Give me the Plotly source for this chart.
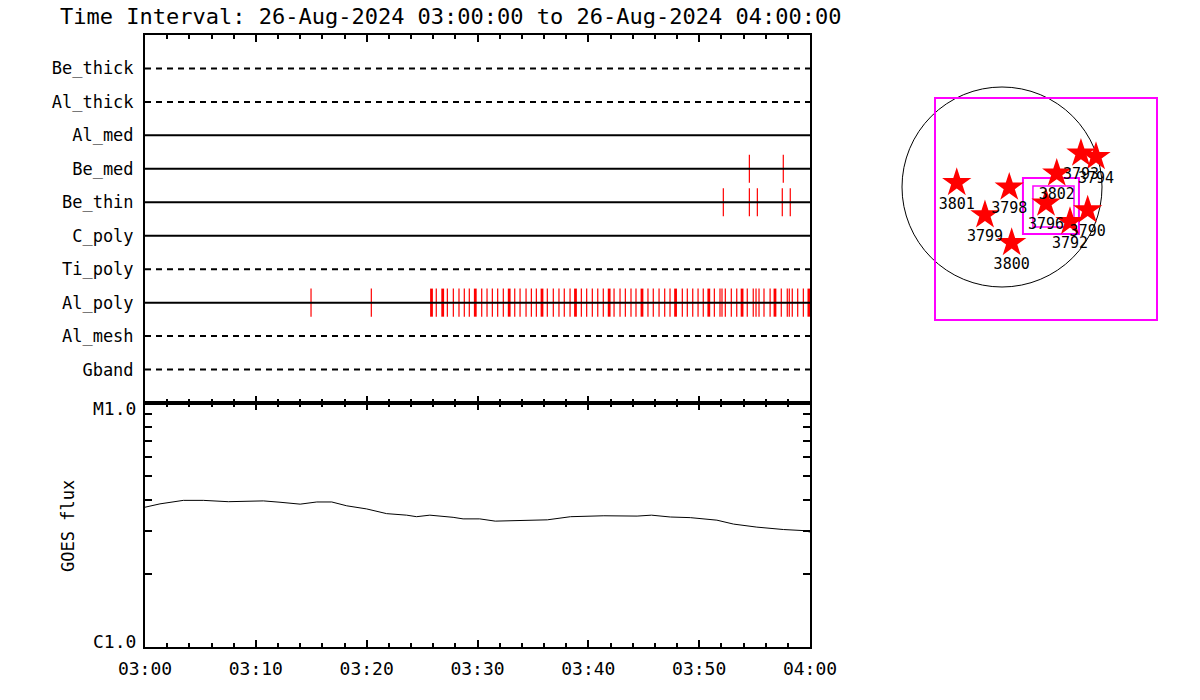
import math
import pandas as pd
import plotly.graph_objects as go

# ---------------- data ----------------
BASE = pd.Timestamp("2024-08-26 03:00:00")
T_START = "2024-08-26 03:00:00"
T_END = "2024-08-26 04:00:00"
TITLE = "Time Interval: 26-Aug-2024 03:00:00 to 26-Aug-2024 04:00:00"

channels = ["Be_thick", "Al_thick", "Al_med", "Be_med", "Be_thin",
            "C_poly", "Ti_poly", "Al_poly", "Al_mesh", "Gband"]
channel_dashed = [True, True, False, False, False, False, True, False, True, True]

# event times, minutes after 03:00
be_med_events = [54.53, 57.59]
be_thin_events = [52.18, 54.53, 55.25, 57.50, 58.22]
al_poly_events = [14.98, 20.42, 26.28, 27.28, 27.82, 28.33, 28.81, 29.26, 30.38, 30.86,
                  31.34, 31.82, 32.33, 33.36, 33.84, 34.38, 34.86, 35.31, 36.30, 36.84,
                  37.35, 37.83, 38.35, 39.37, 39.85, 40.36, 40.85, 41.35, 42.32, 42.86,
                  43.34, 43.85, 44.30, 45.38, 45.86, 46.38, 46.89, 47.37, 48.48, 48.93,
                  49.42, 49.90, 50.37, 51.37, 51.88, 52.06, 52.36, 52.90, 53.39, 54.34,
                  54.88, 55.13, 55.40, 55.85, 56.40, 57.41, 57.95, 58.13, 58.40, 58.89,
                  59.40]
al_poly_strong = [25.85, 26.86, 29.80, 32.86, 35.82, 38.84, 41.88, 44.84, 47.87, 50.87,
                  53.87, 56.84, 59.90]

goes_minutes = [0.0, 1.35, 3.46, 5.26, 7.52, 10.68, 12.18, 14.0, 15.5, 16.85, 18.2,
                20.0, 21.8, 23.61, 24.5, 25.7, 27.8, 28.7, 30.2, 31.6, 36.3, 38.4,
                41.4, 44.4, 45.7, 47.4, 49.2, 51.6, 53.1, 55.2, 57.6, 59.4, 60.0]
goes_flux = [3.74e-6, 3.86e-6, 3.99e-6, 3.99e-6, 3.94e-6, 3.97e-6, 3.92e-6, 3.85e-6,
             3.93e-6, 3.93e-6, 3.79e-6, 3.68e-6, 3.52e-6, 3.47e-6, 3.42e-6, 3.47e-6,
             3.40e-6, 3.35e-6, 3.35e-6, 3.28e-6, 3.32e-6, 3.42e-6, 3.45e-6, 3.44e-6,
             3.47e-6, 3.41e-6, 3.39e-6, 3.31e-6, 3.19e-6, 3.10e-6, 3.03e-6, 3.00e-6,
             2.96e-6]

goes_tickvals = [1e-6, 1e-5]
goes_ticktext = ["C1.0", "M1.0"]
goes_minor = [2e-6, 3e-6, 4e-6, 5e-6, 6e-6, 7e-6, 8e-6, 9e-6]

# active regions (arcsec, solar disk coordinates)
ar_numbers = ["3801", "3798", "3799", "3800", "3802", "3796", "3792", "3790", "3793", "3794"]
ar_x = [-430, 69, -162, 92, 520, 418, 646, 814, 750, 893]
ar_y = [41, -3, -266, -529, 130, -155, -330, -219, 320, 288]
solar_radius = 950
fov_cx = [418, 465, 489]
fov_cy = [-209, -180, -185]
fov_size = [2109, 532, 390]


def tstamp(m):
    return BASE + pd.Timedelta(minutes=m)


FONT = "DejaVu Sans Mono"
fig = go.Figure()

n = len(channels)
row_y = [n - i for i in range(n)]
half = 0.42


def add_events(times, y, width):
    xs, ys = [], []
    for m in times:
        xs += [tstamp(m), tstamp(m), None]
        ys += [y - half, y + half, None]
    fig.add_trace(go.Scatter(x=xs, y=ys, mode="lines", line=dict(color="#ff0000", width=width),
                             xaxis="x", yaxis="y", showlegend=False, hoverinfo="skip"))


add_events(be_med_events, row_y[channels.index("Be_med")], 1.2)
add_events(be_thin_events, row_y[channels.index("Be_thin")], 1.2)
add_events(al_poly_events, row_y[channels.index("Al_poly")], 1.2)
add_events(al_poly_strong, row_y[channels.index("Al_poly")], 2.8)

for name, y, dashed in zip(channels, row_y, channel_dashed):
    fig.add_trace(go.Scatter(x=[T_START, T_END], y=[y, y], mode="lines",
                             line=dict(color="black", width=2, dash="6px,5px" if dashed else "solid"),
                             xaxis="x", yaxis="y", showlegend=False, hoverinfo="skip"))

# GOES
fig.add_trace(go.Scatter(x=[tstamp(m) for m in goes_minutes], y=goes_flux, mode="lines",
                         line=dict(color="black", width=1), xaxis="x2", yaxis="y2",
                         showlegend=False))

# map
fig.add_trace(go.Scatter(x=ar_x, y=ar_y, mode="markers+text", text=ar_numbers,
                         textposition="bottom center",
                         textfont=dict(family=FONT, size=15, color="black"),
                         marker=dict(symbol="star", size=22, color="#ff0000", line=dict(width=0)),
                         xaxis="x3", yaxis="y3", showlegend=False))

shapes = [dict(type="circle", xref="x3", yref="y3", x0=-solar_radius, x1=solar_radius,
               y0=-solar_radius, y1=solar_radius, line=dict(color="black", width=1), layer="below")]
for cx, cy, s, w in zip(fov_cx, fov_cy, fov_size, [2, 2, 1.5]):
    shapes.append(dict(type="rect", xref="x3", yref="y3", x0=cx - s / 2, x1=cx + s / 2,
                       y0=cy - s / 2, y1=cy + s / 2, line=dict(color="#ff00ff", width=w),
                       layer="below"))

W, H = 1200, 700


def px(x):
    return x / W


def py(y):
    return (H - y) / H


xl, xr = px(145), px(810)
top_dom = [py(403), py(35)]
bot_dom = [py(647), py(403)]

common_x = dict(type="date", range=[T_START, T_END], showline=True, linewidth=2,
                linecolor="black", mirror="ticks", ticks="inside", ticklen=7, tickwidth=2,
                tickcolor="black", dtick=600000, tick0=T_START, showgrid=False, zeroline=False,
                minor=dict(dtick=120000, ticks="inside", ticklen=4, tickwidth=1.5,
                           tickcolor="black", showgrid=False),
                domain=[xl, xr], automargin=False)

# y-axis labels of GOES panel, placed through the log axis (slightly inset like the original)
goes_label_ann = []
for v, txt, shift in zip(goes_tickvals, goes_ticktext, [6, -5]):
    goes_label_ann.append(dict(text=txt, xref="paper", yref="y2", x=px(138), y=math.log10(v),
                               yshift=shift, xanchor="right", yanchor="middle", showarrow=False,
                               font=dict(size=18, family=FONT, color="black")))

fig.update_layout(
    width=W, height=H, margin=dict(l=0, r=0, t=0, b=0),
    paper_bgcolor="white", plot_bgcolor="white",
    font=dict(family=FONT, color="black"),
    xaxis=dict(common_x, anchor="y", showticklabels=False),
    yaxis=dict(domain=top_dom, range=[0, n + 1], tickvals=row_y, ticktext=channels,
               showline=True, linewidth=2, linecolor="black", mirror=True, ticks="",
               showgrid=False, zeroline=False, tickfont=dict(size=17, family=FONT),
               ticklabelstandoff=6, automargin=False, anchor="x"),
    xaxis2=dict(common_x, anchor="y2", showticklabels=True, tickformat="%H:%M",
                tickfont=dict(size=18, family=FONT), ticklabelstandoff=4),
    yaxis2=dict(domain=bot_dom, type="log", range=[-6, -5], tickvals=goes_tickvals,
                ticktext=["", ""], showline=True, linewidth=2, linecolor="black",
                mirror="ticks", ticks="inside", ticklen=8, tickwidth=1.5, tickcolor="black",
                minor=dict(tickvals=goes_minor, ticks="inside", ticklen=7, tickwidth=1.5,
                           tickcolor="black", showgrid=False),
                showgrid=False, zeroline=False, automargin=False, anchor="x2"),
    xaxis3=dict(domain=[px(880), px(1180)], range=[-1159, 1691], visible=False,
                anchor="y3", automargin=False),
    yaxis3=dict(domain=[py(337), py(37)], range=[-1425, 1425], visible=False,
                anchor="x3", automargin=False),
    shapes=shapes,
    annotations=[
        dict(text=TITLE, xref="paper", yref="paper", x=px(58), y=py(17),
             xanchor="left", yanchor="middle", showarrow=False,
             font=dict(size=22, family=FONT, color="black")),
        dict(text="GOES flux", xref="paper", yref="paper", x=px(68), y=py(526),
             xanchor="center", yanchor="middle", textangle=-90, showarrow=False,
             font=dict(size=17, family=FONT, color="black")),
    ] + goes_label_ann,
)

fig.write_html("out.html", config={"displayModeBar": False},
               post_script="document.body.style.margin='0';document.body.style.overflow='hidden';")
